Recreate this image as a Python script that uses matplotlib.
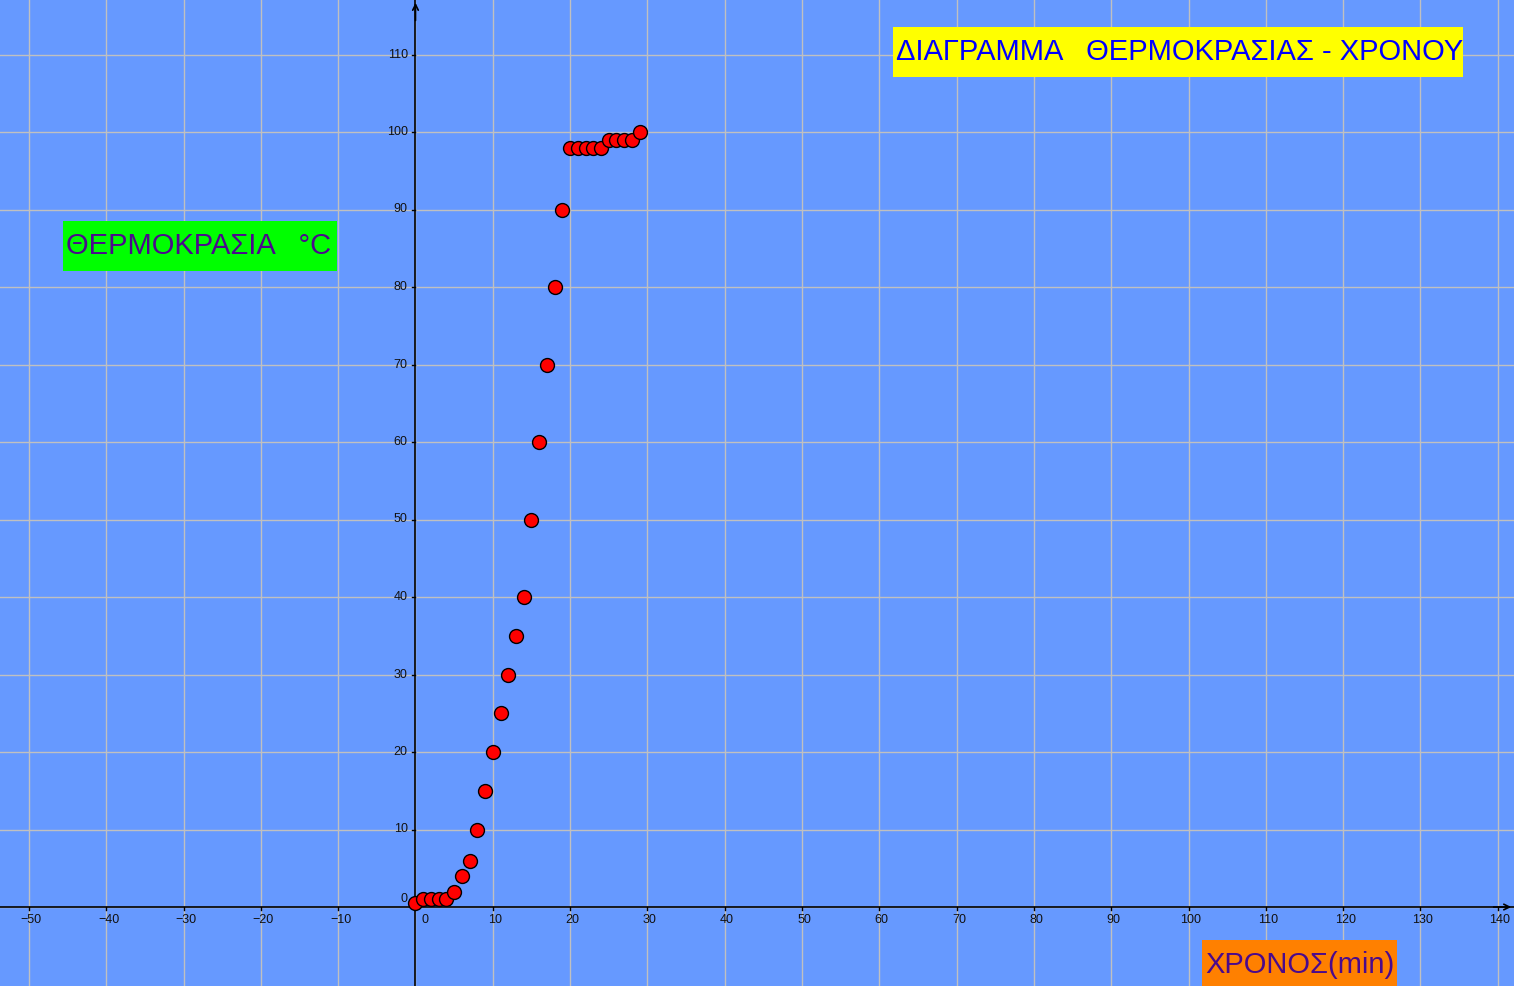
import numpy as np
import matplotlib
matplotlib.use("Agg")
from matplotlib import pyplot as plt
from matplotlib.patches import Rectangle

# data (minutes, degrees C)
time_min = [0, 1, 2, 3, 4, 5, 6, 7, 8, 9, 10, 11, 12, 13, 14, 15, 16, 17, 18, 19,
            20, 21, 22, 23, 24, 25, 26, 27, 28, 29]
temp_c = [0.5, 1, 1, 1, 1, 2, 4, 6, 10, 15, 20, 25, 30, 35, 40, 50, 60, 70, 80, 90,
          98, 98, 98, 98, 98, 99, 99, 99, 99, 100]

x_ticks = list(range(-50, 150, 10))
y_ticks = list(range(0, 120, 10))

title_text = "ΔΙΑΓΡΑΜΜΑ   ΘΕΡΜΟΚΡΑΣΙΑΣ - ΧΡΟΝΟΥ"
ylabel_text = "ΘΕΡΜΟΚΡΑΣΙΑ   °C"
xlabel_text = "ΧΡΟΝΟΣ(min)"

W, H = 1514, 986
plt.rcParams['font.family'] = ['Liberation Sans', 'DejaVu Sans']

fig = plt.figure(figsize=(W / 100, H / 100), dpi=100)
ax = fig.add_axes([0, 0, 1, 1])
ax.set_facecolor("#6699ff")

sx, sy = 7.73, 7.75
ox, oy = 415.5, 907
ax.set_xlim(-ox / sx, (W - ox) / sx)
ax.set_ylim(-(H - oy) / sy, oy / sy)

# grid
for t in x_ticks:
    ax.axvline(t, color="#c0c0c0", lw=1.0, zorder=1)
for t in y_ticks:
    ax.axhline(t, color="#c0c0c0", lw=1.0, zorder=1)

# axes through origin
ax.axhline(0, color="black", lw=1.2, zorder=2)
ax.axvline(0, color="black", lw=1.2, zorder=2)
ylim = ax.get_ylim()
xlim = ax.get_xlim()
ax.annotate("", xy=(0, ylim[1]), xytext=(0, ylim[1] - 3),
            arrowprops=dict(arrowstyle="->", color="black", lw=1.2), zorder=3)
ax.annotate("", xy=(xlim[1], 0), xytext=(xlim[1] - 3, 0),
            arrowprops=dict(arrowstyle="->", color="black", lw=1.2), zorder=3)

# tick marks and labels
for t in x_ticks:
    ax.plot([t, t], [0, -0.45], color="black", lw=1, zorder=3)
    if t == 0:
        ax.text(t + 1.2, -0.9, "0", fontsize=9, color="#111111",
                ha="center", va="top", zorder=3)
    else:
        ax.text(t + 0.3, -0.9, str(t).replace("-", "\u2212"), fontsize=9,
                color="#111111", ha="center", va="top", zorder=3)
for t in y_ticks:
    ax.plot([0, -0.45], [t, t], color="black", lw=1, zorder=3)
    yy = t + 1.0 if t == 0 else t
    ax.text(-1.0, yy, str(t), fontsize=9, color="#111111",
            ha="right", va="center", zorder=3)

ax.plot(time_min, temp_c, "o", color="#ff0000", markeredgecolor="black",
        markersize=10, markeredgewidth=1, zorder=5)


def label_box(x0, y0, x1, y1, face, text, color):
    ax.add_patch(Rectangle((x0 / W, 1 - y1 / H), (x1 - x0) / W, (y1 - y0) / H,
                           transform=ax.transAxes, facecolor=face,
                           edgecolor="none", zorder=6))
    ax.text((x0 + 3) / W, 1 - ((y0 + y1) / 2 - 3) / H, text, transform=ax.transAxes,
            fontsize=21, color=color, ha="left", va="center_baseline", zorder=7)


label_box(893, 27, 1463, 77, "#ffff00", title_text, "#0000ff")
label_box(63, 221, 337, 271, "#00ff00", ylabel_text, "#4b0a8c")
label_box(1202, 940, 1397, 990, "#ff8000", xlabel_text, "#4b0a8c")

ax.set_xticks([])
ax.set_yticks([])
for s in ax.spines.values():
    s.set_visible(False)

fig.savefig("out.png", dpi=100)
